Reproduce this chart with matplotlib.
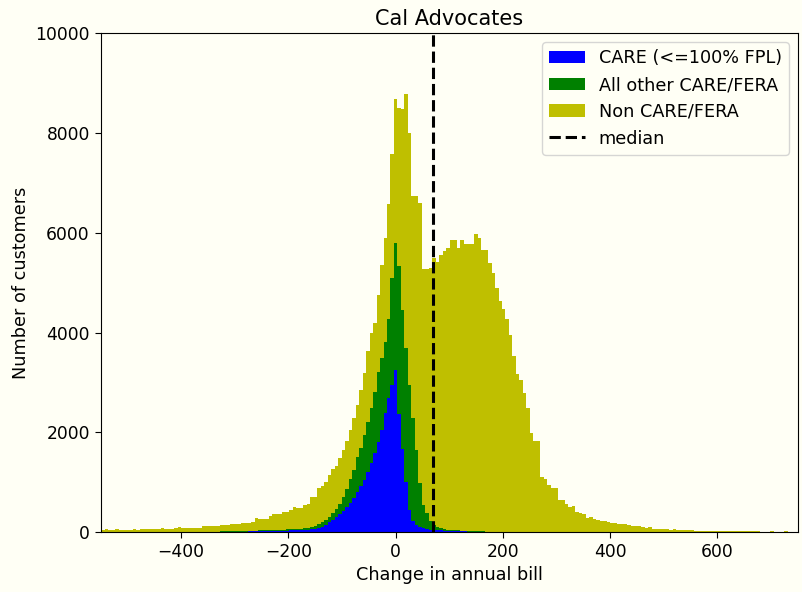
import numpy as np
import matplotlib
matplotlib.use("Agg")
import matplotlib.pyplot as plt

BG = "#fffff5"

# 200 bins of 6.5 from -549
bin_start, bin_width, n_bins = -549.0, 6.5, 200
median_change = 70

# counts per bin
care = ([0] * 20 + [1] * 10 +
        [2, 3, 3, 4, 4, 5, 5, 6, 7, 8,
         8, 9, 10, 12, 14, 15, 16, 18, 20, 22,
         24, 25, 27, 28, 30, 32, 35, 38, 42, 48,
         55, 60, 80, 95, 140, 200, 240, 300, 360, 430,
         500, 580, 680, 800, 920, 1050, 1200, 1380, 1580, 1800,
         2050, 2380, 2680, 2950, 3250, 2370, 1660, 1000, 440, 220,
         130, 90, 70, 55, 45, 40, 35, 30, 25, 22,
         20, 18, 15, 12, 10, 8, 6, 5, 4, 3,
         2, 2, 1, 1, 1, 0, 0, 0, 0, 0] +
        [0] * 80)

other_care_fera = ([1] * 20 + [2] * 10 +
                   [4, 4, 5, 5, 6, 5, 6, 6, 7, 8,
                    10, 11, 12, 13, 14, 15, 16, 17, 18, 18,
                    18, 20, 21, 22, 22, 23, 25, 27, 33, 37,
                    45, 50, 70, 95, 110, 110, 140, 160, 200, 270,
                    360, 480, 570, 700, 760, 900, 1000, 1100, 1220, 1400,
                    1430, 1420, 1600, 2150, 2550, 2960, 2800, 2690, 2510, 2060,
                    1520, 890, 470, 320, 165, 100, 72, 50, 35, 26,
                    20, 17, 15, 13, 12, 12, 12, 10, 8, 7,
                    6, 4, 4, 3, 2, 2, 2, 1, 1, 1] +
                   [0] * 80)

non_care_fera = [36, 49, 36, 36, 49, 36, 43, 39, 36, 49,
                 44, 49, 49, 49, 49, 49, 54, 69, 63, 63,
                 61, 74, 101, 74, 74, 74, 77, 74, 77, 114,
                 114, 117, 116, 117, 120, 134, 133, 138, 143, 144,
                 166, 164, 164, 179, 256, 234, 232, 235, 287, 325,
                 323, 325, 350, 360, 380, 443, 425, 425, 464, 475,
                 600, 590, 730, 730, 760, 830, 890, 870, 920, 950,
                 955, 990, 1030, 1050, 1170, 1235, 1420, 1510, 1390, 1560,
                 1880, 2100, 2290, 2470, 2890, 3180, 4020, 5085, 5055, 4450,
                 5080, 5620, 4740, 4895, 5090, 5360, 5313, 5470, 5570, 5652,
                 5810, 5815, 5670, 5825, 5758, 5760, 5762, 5970, 5888, 5640,
                 5642, 5389, 5190, 4891, 4622, 4468, 4268, 3954, 3534, 3169,
                 3040, 2785, 2485, 1980, 1815, 1815, 1110, 1060, 945, 880,
                 880, 640, 640, 560, 495, 530, 400, 375, 355, 280,
                 295, 268, 248, 230, 215, 207, 180, 174, 160, 154,
                 154, 140, 125, 120, 110, 107, 87, 94, 67, 67,
                 67, 67, 67, 45, 60, 40, 40, 40, 40, 40,
                 20, 22, 20, 18, 20, 20, 18, 20, 16, 20,
                 18, 15, 18, 15, 15, 12, 15, 12, 10, 0,
                 0, 0, 20, 0, 0, 0, 20, 0, 0, 2]

labels = ["CARE (<=100% FPL)", "All other CARE/FERA", "Non CARE/FERA"]

edges = bin_start + bin_width * np.arange(n_bins + 1)
centers = 0.5 * (edges[:-1] + edges[1:])

plt.rcParams["font.size"] = 12.7
plt.rcParams["xtick.labelsize"] = 12.3
plt.rcParams["ytick.labelsize"] = 12.3
plt.rcParams["xtick.major.size"] = 4.4
plt.rcParams["ytick.major.size"] = 4.4
fig = plt.figure(figsize=(8.02, 5.92), dpi=100, facecolor=BG)
ax = fig.add_subplot(111, facecolor=BG)
fig.subplots_adjust(left=0.1256, right=0.9946, top=0.9437, bottom=0.1014)

ax.hist([centers] * 3, bins=edges,
        weights=[care, other_care_fera, non_care_fera],
        stacked=True, color=["b", "g", "y"], label=labels)
ax.axvline(median_change, color="k", linestyle="--", linewidth=2.2, label="median")

ax.set_xlim(-550, 750)
ax.set_ylim(0, 10000)
ax.set_xticks([-400, -200, 0, 200, 400, 600])
ax.set_title("Cal Advocates", fontsize=15)
ax.set_xlabel("Change in annual bill")
ax.set_ylabel("Number of customers")
leg = ax.legend(loc="upper right")
leg.get_frame().set_facecolor(BG)

fig.savefig("out.png", dpi=100, facecolor=BG)
